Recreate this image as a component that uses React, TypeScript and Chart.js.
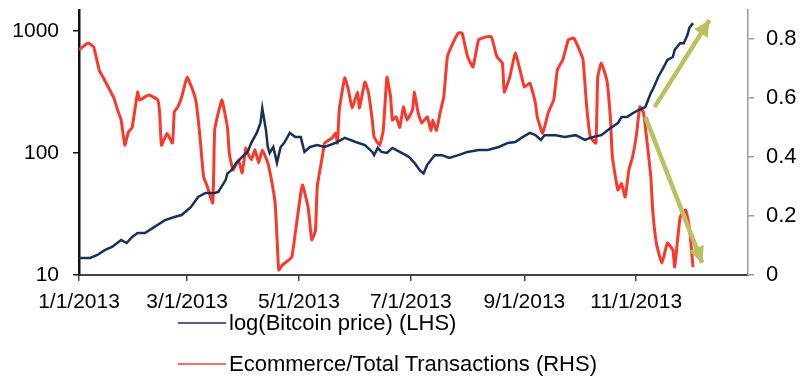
import React, { useEffect, useRef } from "react";
import { Chart, registerables } from "chart.js";

Chart.register(...registerables);

// ---- axis ticks (x in days since 1/1/2013) ----
const tickDays = [0, 59, 120, 181, 243, 304];
const tickLabels = ["1/1/2013", "3/1/2013", "5/1/2013", "7/1/2013", "9/1/2013", "11/1/2013"];
const leftTicks = [10, 100, 1000];
const rightTicks = [0, 0.2, 0.4, 0.6, 0.8];

const seriesLabels = ["log(Bitcoin price) (LHS)", "Ecommerce/Total Transactions (RHS)"];

// ---- Bitcoin price (LHS, log scale) ----
const btcDays = [
  0, 6, 10, 14, 18, 23, 26, 29, 32, 36, 41, 47, 52, 56, 61, 65, 69, 74, 76, 80,
  81, 83, 86, 89, 92, 94, 97, 99, 100, 102, 103, 104, 106, 108, 110, 112, 115, 118, 121, 123,
  126, 130, 134, 140, 145, 151, 156, 160, 161, 163, 165, 168, 171, 175, 180, 183, 186, 188, 190, 194,
  198, 202, 207, 212, 218, 223, 229, 234, 238, 242, 246, 249, 252, 254, 260, 265, 271, 276, 280, 285,
  290, 294, 296, 299, 302, 305, 309, 312, 313, 316, 319, 321, 324, 325, 328, 330, 332, 333, 335,
];
const btcPrice = [
  13.8, 13.8, 14.6, 16.0, 17.0, 19.4, 18.3, 20.5, 22.1, 22.1, 24.7, 28.2, 29.9, 31, 36, 43.6, 47, 47, 48, 60,
  68, 72, 83, 93, 102, 121, 146, 176, 233, 154, 112, 100, 112, 83, 112, 121, 146, 135, 135, 102,
  112, 116, 112, 121, 133, 123, 116, 102, 96, 110, 102, 100, 110, 102, 93, 83, 72, 68, 80, 96,
  96, 91, 96, 102, 106, 106, 112, 121, 123, 135, 146, 140, 128, 140, 140, 135, 140, 128, 135, 140,
  160, 176, 197, 197, 211, 224, 238, 311, 330, 420, 505, 580, 612, 700, 795, 795, 930, 1060, 1160,
];

// ---- Ecommerce / total transactions (RHS) ----
const ecoDays = [
  0, 5, 8, 11, 14, 19, 21, 23, 25, 27, 29, 32, 33, 38, 43, 44, 45, 48, 51, 52,
  54, 56, 59, 62, 64, 66, 68, 70, 73, 74, 76, 78, 81, 82, 84, 87, 89, 91, 92, 94,
  96, 98, 100, 103, 105, 107, 108, 109, 111, 116, 118, 121, 122, 125, 127, 129, 130, 133, 134, 138,
  140, 141, 142, 145, 147, 149, 152, 153, 156, 158, 160, 161, 164, 166, 168, 170, 171, 173, 175, 177,
  179, 182, 183, 185, 187, 190, 192, 193, 195, 197, 199, 201, 204, 207, 209, 212, 215, 218, 222, 225,
  228, 231, 232, 235, 238, 241, 243, 246, 249, 250, 253, 256, 259, 261, 264, 267, 270, 273, 275, 277,
  279, 282, 283, 285, 288, 290, 291, 294, 296, 298, 300, 302, 304, 306, 308, 310, 312, 313, 315, 318,
  321, 324, 325, 328, 331, 333, 335,
];
const ecoShare = [
  0.763, 0.786, 0.773, 0.695, 0.66, 0.6, 0.56, 0.525, 0.44, 0.485, 0.5, 0.62, 0.593, 0.61, 0.593, 0.55, 0.44, 0.48, 0.447, 0.553,
  0.57, 0.603, 0.67, 0.627, 0.583, 0.468, 0.332, 0.3, 0.244, 0.49, 0.55, 0.593, 0.5, 0.413, 0.356, 0.39, 0.346, 0.43, 0.413, 0.39,
  0.424, 0.38, 0.424, 0.38, 0.322, 0.244, 0.13, 0.017, 0.034, 0.06, 0.142, 0.278, 0.305, 0.23, 0.119, 0.15, 0.3, 0.41, 0.447, 0.464,
  0.48, 0.447, 0.56, 0.668, 0.627, 0.566, 0.62, 0.566, 0.654, 0.617, 0.525, 0.468, 0.44, 0.49, 0.67, 0.603, 0.525, 0.536, 0.5, 0.57,
  0.525, 0.56, 0.62, 0.55, 0.515, 0.536, 0.49, 0.525, 0.49, 0.55, 0.603, 0.74, 0.786, 0.82, 0.82, 0.74, 0.705, 0.797, 0.807, 0.807,
  0.74, 0.718, 0.62, 0.67, 0.752, 0.685, 0.637, 0.65, 0.583, 0.536, 0.48, 0.55, 0.593, 0.695, 0.73, 0.797, 0.803, 0.763, 0.73, 0.57,
  0.468, 0.447, 0.67, 0.718, 0.66, 0.525, 0.4, 0.288, 0.31, 0.264, 0.356, 0.4, 0.468, 0.57, 0.55, 0.447, 0.332, 0.22, 0.108, 0.04,
  0.108, 0.085, 0.027, 0.197, 0.22, 0.163, 0.027,
];

// ---- annotation arrows (RHS units) ----
const arrowUpDays = [314, 344];
const arrowUpVals = [0.569, 0.864];
const arrowDownDays = [309, 340];
const arrowDownVals = [0.536, 0.041];

const FONT = "'Liberation Sans', Arial, sans-serif";
const BLUE = "#16305c";
const RED = "#f8392b";
const OLIVE = "#bcc05e";

const zip = (xs: number[], ys: number[]) => xs.map((x, i) => ({ x, y: ys[i] }));

const arrowHeads = {
  id: "arrowHeads",
  afterDatasetsDraw(chart: any) {
    const ctx = chart.ctx;
    chart.data.datasets.forEach((ds: any, i: number) => {
      if (!ds.isArrow) return;
      const pts = chart.getDatasetMeta(i).data;
      const a = pts[pts.length - 2];
      const b = pts[pts.length - 1];
      const ang = Math.atan2(b.y - a.y, b.x - a.x);
      const len = 16;
      const w = 8;
      const bx = b.x - Math.cos(ang) * len;
      const by = b.y - Math.sin(ang) * len;
      ctx.save();
      ctx.fillStyle = ds.borderColor;
      ctx.beginPath();
      ctx.moveTo(b.x, b.y);
      ctx.lineTo(bx + Math.sin(ang) * w, by - Math.cos(ang) * w);
      ctx.lineTo(bx - Math.sin(ang) * w, by + Math.cos(ang) * w);
      ctx.closePath();
      ctx.fill();
      ctx.restore();
    });
  },
};

export default function App() {
  const ref = useRef<HTMLCanvasElement | null>(null);

  useEffect(() => {
    if (!ref.current) return;
    const chart = new Chart(ref.current, {
      type: "line",
      data: {
        datasets: [
          {
            label: seriesLabels[0],
            data: zip(btcDays, btcPrice),
            yAxisID: "y",
            borderColor: BLUE,
            borderWidth: 2.5,
            pointRadius: 0,
            tension: 0,
            order: 0,
          },
          {
            label: "arrowUp",
            data: zip(arrowUpDays, arrowUpVals),
            yAxisID: "y1",
            borderColor: OLIVE,
            borderWidth: 4.5,
            pointRadius: 0,
            order: 1,
            isArrow: true,
          } as any,
          {
            label: "arrowDown",
            data: zip(arrowDownDays, arrowDownVals),
            yAxisID: "y1",
            borderColor: OLIVE,
            borderWidth: 4.5,
            pointRadius: 0,
            order: 1,
            isArrow: true,
          } as any,
          {
            label: seriesLabels[1],
            data: zip(ecoDays, ecoShare),
            yAxisID: "y1",
            borderColor: RED,
            borderWidth: 3,
            pointRadius: 0,
            tension: 0.12,
            order: 3,
          },
        ],
      },
      options: {
        animation: false,
        responsive: false,
        devicePixelRatio: 1,
        layout: { padding: { top: 10, left: 0, right: 0, bottom: 0 } },
        plugins: {
          legend: { display: false },
          tooltip: { enabled: false },
        },
        scales: {
          x: {
            type: "linear",
            position: "bottom",
            min: 0,
            max: 365,
            afterBuildTicks: (s: any) => {
              s.ticks = tickDays.map((v) => ({ value: v }));
            },
            afterFit: (s: any) => {
              s.height = 110;
              s.paddingLeft = 0;
              s.paddingRight = 0;
            },
            ticks: {
              autoSkip: false,
              maxRotation: 0,
              minRotation: 0,
              padding: 9,
              color: "#000",
              font: { family: FONT, size: 21 },
              callback: (_v: any, i: number) => tickLabels[i],
            },
            grid: { drawOnChartArea: false, drawTicks: true, tickLength: 6, color: "#444", lineWidth: 1.5 },
            border: { display: true, color: "#444", width: 2 },
          },
          y: {
            type: "logarithmic",
            position: "left",
            min: 10,
            max: 1486,
            afterBuildTicks: (s: any) => {
              s.ticks = leftTicks.map((v) => ({ value: v }));
            },
            afterFit: (s: any) => {
              s.width = 79;
              s.paddingTop = 0;
              s.paddingBottom = 0;
            },
            ticks: {
              padding: 14,
              color: "#000",
              font: { family: FONT, size: 21 },
              callback: (_v: any, i: number) => String(leftTicks[i]),
            },
            grid: { drawOnChartArea: false, drawTicks: true, tickLength: 6, color: "#111", lineWidth: 1.5 },
            border: { display: true, color: "#111", width: 2.5 },
          },
          y1: {
            type: "linear",
            position: "right",
            min: 0,
            max: 0.898,
            afterBuildTicks: (s: any) => {
              s.ticks = rightTicks.map((v) => ({ value: v }));
            },
            afterFit: (s: any) => {
              s.width = 62;
              s.paddingTop = 0;
              s.paddingBottom = 0;
            },
            ticks: {
              padding: 12,
              color: "#000",
              font: { family: FONT, size: 22 },
              callback: (_v: any, i: number) => (rightTicks[i] === 0 ? "0" : rightTicks[i].toFixed(1)),
            },
            grid: { drawOnChartArea: false, drawTicks: true, tickLength: 6, color: "#999", lineWidth: 1.5 },
            border: { display: true, color: "#999", width: 1.5 },
          },
        },
      },
      plugins: [arrowHeads],
    });
    return () => chart.destroy();
  }, []);

  const legendColors = [BLUE, RED];
  const legendTops = [310, 351];

  return (
    <div style={{ position: "fixed", left: 0, top: 0, width: 810, height: 385, background: "#fff" }}>
      <canvas ref={ref} width={810} height={385} style={{ display: "block", width: 810, height: 385 }} />
      {seriesLabels.map((label, i) => (
        <div
          key={label}
          style={{
            position: "absolute",
            left: 178,
            top: legendTops[i],
            height: 26,
            display: "flex",
            alignItems: "center",
            fontFamily: FONT,
            fontSize: 22,
            color: "#000",
            whiteSpace: "nowrap",
          }}
        >
          <span style={{ display: "inline-block", width: 48, height: 2, background: legendColors[i], marginRight: 3, opacity: 0.75 }} />
          <span>{label}</span>
        </div>
      ))}
    </div>
  );
}
